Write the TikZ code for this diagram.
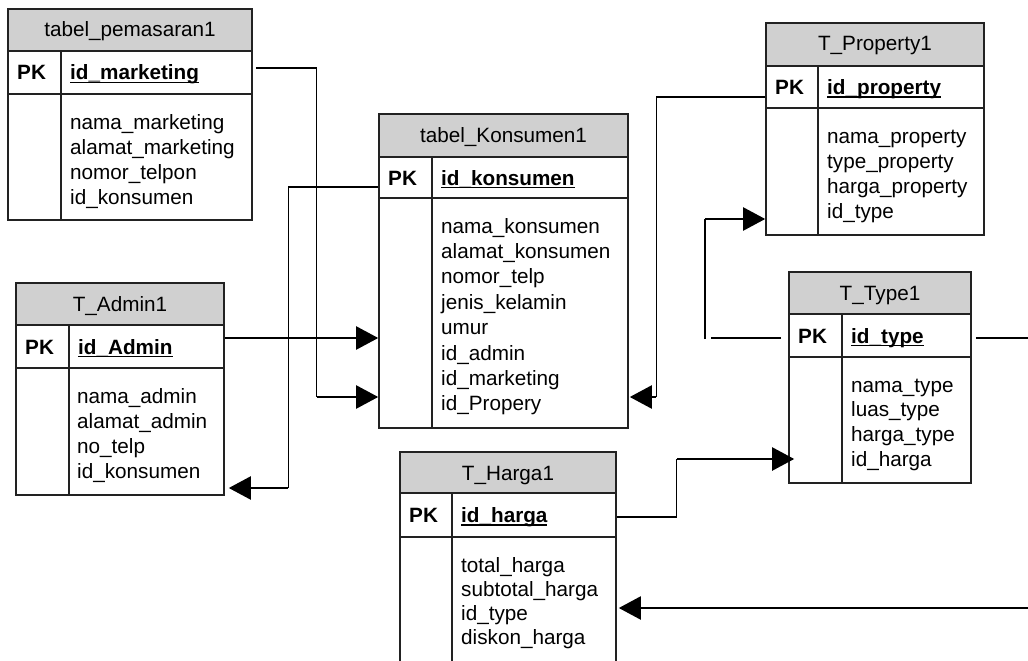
\documentclass[tikz,border=0pt]{standalone}
\usepackage{fontspec}
\setmainfont{Liberation Sans}
\usetikzlibrary{arrows.meta}
\definecolor{headgray}{RGB}{208,208,208}
\definecolor{bordercol}{RGB}{34,34,34}

% bold key field with a heavy underline
\newcommand\keyfield[1]{\setbox0=\hbox{\bfseries #1}\rlap{\rule[-3.4pt]{\wd0}{1.6pt}}\box0}

% table frame: #1 name, #2 left, #3 right, #4 top, #5 header bottom,
% #6 key row bottom, #7 bottom, #8 divider x, #9 title
\newcommand\erdtable[9]{%
  \node[headbox, minimum width={#3-#2}, minimum height={#5-#4}] (#1-head) at ({(#2+#3)/2},{(#4+#5)/2}) {};
  \node[rowbox, minimum width={#3-#2}, minimum height={#6-#5}] (#1-key) at ({(#2+#3)/2},{(#5+#6)/2}) {};
  \node[rowbox, minimum width={#3-#2}, minimum height={#7-#6}] (#1-body) at ({(#2+#3)/2},{(#6+#7)/2}) {};
  \draw[divider] (#8,#5) -- (#8,#7);
  \node[titletext] (#1-title) at ({(#2+#3)/2},{#4+28}) {#9};
  \node[pktext] (#1-pk) at ({#2+9},{(#5+#6)/2+7.5}) {PK};
}

\tikzset{
  headbox/.style={rectangle, draw=bordercol, line width=1.6pt, fill=headgray, inner sep=0pt},
  rowbox/.style={rectangle, draw=bordercol, line width=1.6pt, fill=white, inner sep=0pt},
  divider/.style={draw=bordercol, line width=1.6pt},
  titletext/.style={anchor=base, inner sep=0pt},
  pktext/.style={anchor=base west, inner sep=0pt, font=\fontsize{20.7}{25}\selectfont\bfseries},
  keytext/.style={anchor=base west, inner sep=0pt},
  attrtext/.style={anchor=base west, inner sep=0pt},
  link/.style={line width=1.3pt, black},
  arrowlink/.style={line width=2.2pt, black, -{Triangle[length=22pt,width=23pt]}},
}

\begin{document}
\begin{tikzpicture}[x=1pt, y=-1pt, font=\fontsize{20.7}{25}\selectfont]
\useasboundingbox (0,0) rectangle (1028,661);
\fill[white] (0,0) rectangle (1028,661);
\clip (0,0) rectangle (1028,661);

% ---------------- tables ----------------
\erdtable{mk}{8}{252}{9}{51}{94}{220}{61}{tabel\_pemasaran1}
\node[keytext] (mk-id) at (70,80) {\keyfield{id\_marketing}};
\foreach \t [count=\i from 0] in {nama\_marketing, alamat\_marketing, nomor\_telpon, id\_konsumen}
  \node[attrtext] (mk-a\i) at (70,{129+25.2*\i}) {\t};

\erdtable{ad}{16}{224}{283}{325}{368}{495}{69}{T\_Admin1}
\node[keytext] (ad-id) at (78,354) {\keyfield{id\_Admin}};
\foreach \t [count=\i from 0] in {nama\_admin, alamat\_admin, no\_telp, id\_konsumen}
  \node[attrtext] (ad-a\i) at (77,{403+25*\i}) {\t};

\erdtable{kn}{379}{628}{114}{157}{198}{428}{432}{tabel\_Konsumen1}
\node[keytext] (kn-id) at (441,185) {\keyfield{id\_konsumen}};
\foreach \t [count=\i from 0] in {nama\_konsumen, alamat\_konsumen, nomor\_telp, jenis\_kelamin, umur, id\_admin, id\_marketing, id\_Propery}
  \node[attrtext] (kn-a\i) at (441,{233+25.4*\i}) {\t};

\erdtable{pr}{766}{984}{23}{66}{108}{235}{818}{T\_Property1}
\node[keytext] (pr-id) at (827,94.5) {\keyfield{id\_property}};
\foreach \t [count=\i from 0] in {nama\_property, type\_property, harga\_property, id\_type}
  \node[attrtext] (pr-a\i) at (827,{143+25*\i}) {\t};

\erdtable{ty}{789}{971}{272}{314}{357}{483}{842}{T\_Type1}
\node[keytext] (ty-id) at (851,343) {\keyfield{id\_type}};
\foreach \t [count=\i from 0] in {nama\_type, luas\_type, harga\_type, id\_harga}
  \node[attrtext] (ty-a\i) at (851,{392+24.8*\i}) {\t};

\erdtable{hg}{400}{616}{452}{493}{537}{700}{452}{T\_Harga1}
\node[keytext] (hg-id) at (461,522.5) {\keyfield{id\_harga}};
\foreach \t [count=\i from 0] in {total\_harga, subtotal\_harga, id\_type, diskon\_harga}
  \node[attrtext] (hg-a\i) at (461,{572+24*\i}) {\t};

% ---------------- relations ----------------
% id_marketing -> tabel_Konsumen1
\draw[link] ([shift={(3pt,4.5pt)}]mk-key.east) -- ++(61,0) -- ++(0,329) coordinate (c1);
\draw[arrowlink] (c1) -- (c1 -| kn-body.west);

% id_Admin -> tabel_Konsumen1
\draw[arrowlink] ([yshift=8.5pt]ad-key.east) -- ([yshift=8.5pt]ad-key.east -| kn-body.west);

% id_konsumen -> T_Admin1
\draw[link] ([yshift=-9.5pt]kn-key.west) -- ++(-90,0) -- ++(0,301) coordinate (c3);
\draw[arrowlink] (c3) -- ([xshift=4pt]c3 -| ad-body.east);

% id_property -> tabel_Konsumen1
\draw[link] ([yshift=-10pt]pr-key.west) -- ++(-109,0) -- ++(0,300) coordinate (c4);
\draw[arrowlink] (c4) -- ([xshift=1pt]c4 -| kn-body.east);

% id_type -> T_Property1
\draw[link] ([shift={(-7pt,-2.5pt)}]ty-key.west) -- ++(-70,0) coordinate (c5a);
\draw[line width=2.2pt] ([shift={(-6pt,-1pt)}]c5a) -- ++(0,-120) coordinate (c5);
\draw[arrowlink] (c5) -- (c5 -| pr-body.west);

% id_type -> T_Harga1 (routed past the right edge)
\draw[link] ([shift={(4pt,-2.5pt)}]ty-key.east) -- ++(80,0) -- ++(0,270) coordinate (c6);
\draw[arrowlink] (c6) -- ([xshift=2pt]c6 -| hg-body.east);

% id_harga -> T_Type1
\draw[link] ([yshift=-2pt]hg-key.east) -- ++(60,0) -- ++(0,-58) coordinate (c7);
\draw[arrowlink] (c7) -- ([xshift=6pt]c7 -| ty-body.west);
\end{tikzpicture}
\end{document}
